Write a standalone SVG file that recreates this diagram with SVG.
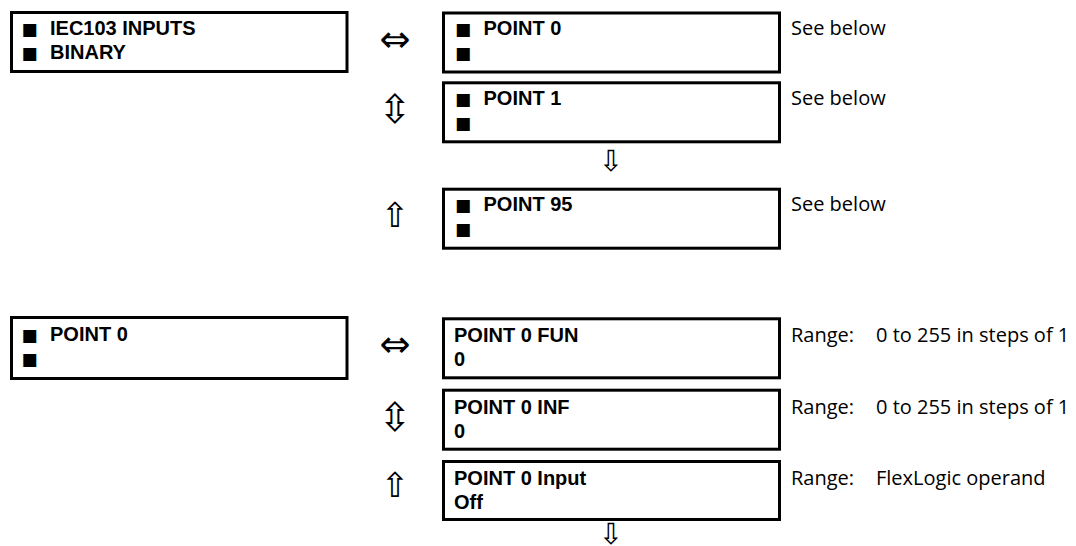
<svg xmlns="http://www.w3.org/2000/svg" width="1076" height="546" viewBox="0 0 1076 546">
<style>
.box{fill:#fff;stroke:#000;stroke-width:3}
.b{font-family:"Liberation Sans",Arial,sans-serif;font-weight:bold;font-size:20px;fill:#000}
.sq{font-family:"DejaVu Sans",sans-serif;font-weight:normal;font-size:17px;fill:#000}
.r{font-family:"Open Sans","Noto Sans",sans-serif;font-size:20px;fill:#000}
.ar{font-family:"DejaVu Sans",sans-serif;fill:#000;text-anchor:middle;dominant-baseline:central}
.h{font-size:37px}
.ud{font-size:40px}
.u{font-size:34px}
.d{font-size:29px}
</style>
<rect width="1076" height="546" fill="#fff"/>
<g id="connectors">
<text class="ar h" x="395" y="39">⇔</text>
<text class="ar ud" x="395" y="109">⇳</text>
<text class="ar d" x="611" y="161">⇩</text>
<text class="ar u" x="395" y="215">⇧</text>
<text class="ar h" x="395" y="344">⇔</text>
<text class="ar ud" x="395" y="417">⇳</text>
<text class="ar u" x="395" y="485">⇧</text>
<text class="ar d" x="611" y="534">⇩</text>
</g>
<g id="iec103-inputs-binary">
<rect class="box" x="11.5" y="12.5" width="335.5" height="59"/>
<text class="sq" x="21.5" y="34.5">■</text>
<text class="b" x="50" y="34.5">IEC103 INPUTS</text>
<text class="sq" x="21.5" y="58.5">■</text>
<text class="b" x="50" y="58.5">BINARY</text>
</g>
<g id="point-0">
<rect class="box" x="443.5" y="13" width="336" height="59"/>
<text class="sq" x="455" y="35">■</text>
<text class="b" x="483.5" y="35">POINT 0</text>
<text class="sq" x="455" y="59">■</text>
<text class="r" x="791" y="35">See below</text>
</g>
<g id="point-1">
<rect class="box" x="443.5" y="82.8" width="336" height="59"/>
<text class="sq" x="455" y="105">■</text>
<text class="b" x="483.5" y="105">POINT 1</text>
<text class="sq" x="455" y="129">■</text>
<text class="r" x="791" y="105">See below</text>
</g>
<g id="point-95">
<rect class="box" x="443.5" y="189.2" width="336" height="59"/>
<text class="sq" x="455" y="211">■</text>
<text class="b" x="483.5" y="211">POINT 95</text>
<text class="sq" x="455" y="235">■</text>
<text class="r" x="791" y="211">See below</text>
</g>
<g id="point-0-menu">
<rect class="box" x="11.5" y="317.5" width="335.5" height="61"/>
<text class="sq" x="21.5" y="341">■</text>
<text class="b" x="50" y="341">POINT 0</text>
<text class="sq" x="21.5" y="365">■</text>
</g>
<g id="point-0-fun">
<rect class="box" x="443.5" y="318.8" width="336" height="59"/>
<text class="b" x="454" y="342">POINT 0 FUN</text>
<text class="b" x="454" y="366">0</text>
<text class="r" x="791" y="342">Range:</text>
<text class="r" x="876" y="342">0 to 255 in steps of 1</text>
</g>
<g id="point-0-inf">
<rect class="box" x="443.5" y="390.2" width="336" height="59"/>
<text class="b" x="454" y="413.5">POINT 0 INF</text>
<text class="b" x="454" y="437.5">0</text>
<text class="r" x="791" y="413.5">Range:</text>
<text class="r" x="876" y="413.5">0 to 255 in steps of 1</text>
</g>
<g id="point-0-input">
<rect class="box" x="443.5" y="461.5" width="336" height="58"/>
<text class="b" x="454" y="485">POINT 0 Input</text>
<text class="b" x="454" y="509">Off</text>
<text class="r" x="791" y="485">Range:</text>
<text class="r" x="876" y="485">FlexLogic operand</text>
</g>
</svg>
